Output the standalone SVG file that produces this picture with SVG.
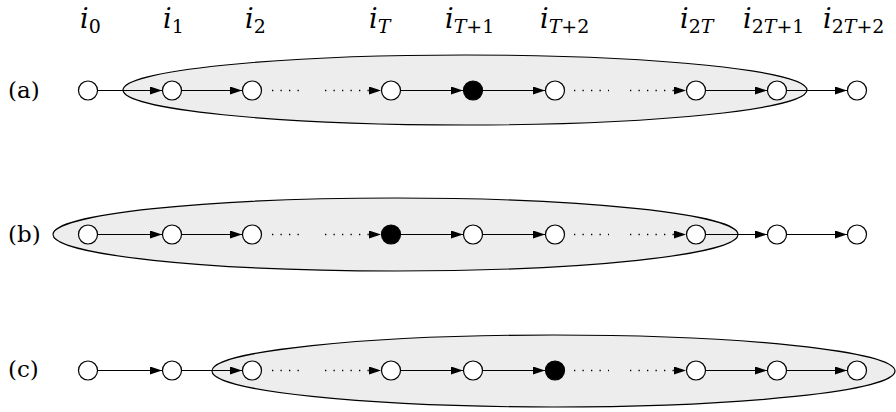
<svg xmlns="http://www.w3.org/2000/svg" width="896" height="412" viewBox="0 0 896 412">
<style>
.reg{fill:#ededed;stroke:#000;stroke-width:1.2}
.n{fill:#fff;stroke:#000;stroke-width:1.2}
.f{fill:#000;stroke:#000;stroke-width:1.2}
.e{stroke:#000;stroke-width:1.1;fill:none}
.d{stroke:#000;stroke-width:1.3;fill:none;stroke-dasharray:1.3 7.2}
.lab{font-family:"DejaVu Serif","Liberation Serif",serif;font-size:27px;fill:#000}
.lab .it{font-style:italic}
.lab .sub{font-size:19px}
.row{font-family:"DejaVu Serif","Liberation Serif",serif;font-size:23px;fill:#000}
</style>
<defs>
<marker id="ah" markerUnits="userSpaceOnUse" markerWidth="12" markerHeight="8" refX="12" refY="4" orient="auto">
<path d="M0,0 L12,4 L0,8 z" fill="#000"/>
</marker>
</defs>
<rect width="896" height="412" fill="#fff"/>
<g id="regions">
<ellipse class="reg" cx="465" cy="90" rx="342" ry="35"/>
<ellipse class="reg" cx="395.5" cy="234.5" rx="342.5" ry="36.5"/>
<ellipse class="reg" cx="553.5" cy="371" rx="341.5" ry="36"/>
</g>
<g id="labels">
<text class="lab" x="80" y="28"><tspan class="it">i</tspan><tspan class="sub" dy="5">0</tspan></text>
<text class="lab" x="163" y="28"><tspan class="it">i</tspan><tspan class="sub" dy="5">1</tspan></text>
<text class="lab" x="245" y="28"><tspan class="it">i</tspan><tspan class="sub" dy="5">2</tspan></text>
<text class="lab" x="369" y="28"><tspan class="it">i</tspan><tspan class="sub it" dy="5">T</tspan></text>
<text class="lab" x="445" y="28"><tspan class="it">i</tspan><tspan class="sub" dy="5"><tspan class="it">T</tspan>+1</tspan></text>
<text class="lab" x="540" y="28"><tspan class="it">i</tspan><tspan class="sub" dy="5"><tspan class="it">T</tspan>+2</tspan></text>
<text class="lab" x="680" y="28"><tspan class="it">i</tspan><tspan class="sub" dy="5">2<tspan class="it">T</tspan></tspan></text>
<text class="lab" x="743" y="28"><tspan class="it">i</tspan><tspan class="sub" dy="5">2<tspan class="it">T</tspan>+1</tspan></text>
<text class="lab" x="823" y="28"><tspan class="it">i</tspan><tspan class="sub" dy="5">2<tspan class="it">T</tspan>+2</tspan></text>
<text class="row" x="8" y="98">(a)</text>
<text class="row" x="8" y="242">(b)</text>
<text class="row" x="8" y="377">(c)</text>
</g>
<g id="connectors">
<line class="e" x1="98" y1="90.5" x2="162" y2="90.5" marker-end="url(#ah)"/>
<line class="e" x1="182" y1="90.5" x2="242" y2="90.5" marker-end="url(#ah)"/>
<line class="d" x1="272" y1="90.5" x2="304" y2="90.5"/>
<line class="d" x1="325" y1="90.5" x2="381" y2="90.5" marker-end="url(#ah)"/>
<line class="e" x1="401" y1="90.5" x2="463" y2="90.5" marker-end="url(#ah)"/>
<line class="e" x1="483" y1="90.5" x2="545" y2="90.5" marker-end="url(#ah)"/>
<line class="d" x1="574" y1="90.5" x2="609" y2="90.5"/>
<line class="d" x1="630" y1="90.5" x2="686" y2="90.5" marker-end="url(#ah)"/>
<line class="e" x1="706" y1="90.5" x2="767" y2="90.5" marker-end="url(#ah)"/>
<line class="e" x1="787" y1="90.5" x2="847" y2="90.5" marker-end="url(#ah)"/>
<line class="e" x1="98" y1="234.5" x2="162" y2="234.5" marker-end="url(#ah)"/>
<line class="e" x1="182" y1="234.5" x2="242" y2="234.5" marker-end="url(#ah)"/>
<line class="d" x1="272" y1="234.5" x2="304" y2="234.5"/>
<line class="d" x1="325" y1="234.5" x2="381" y2="234.5" marker-end="url(#ah)"/>
<line class="e" x1="401" y1="234.5" x2="463" y2="234.5" marker-end="url(#ah)"/>
<line class="e" x1="483" y1="234.5" x2="545" y2="234.5" marker-end="url(#ah)"/>
<line class="d" x1="574" y1="234.5" x2="609" y2="234.5"/>
<line class="d" x1="630" y1="234.5" x2="686" y2="234.5" marker-end="url(#ah)"/>
<line class="e" x1="706" y1="234.5" x2="767" y2="234.5" marker-end="url(#ah)"/>
<line class="e" x1="787" y1="234.5" x2="847" y2="234.5" marker-end="url(#ah)"/>
<line class="e" x1="98" y1="370.5" x2="162" y2="370.5" marker-end="url(#ah)"/>
<line class="e" x1="182" y1="370.5" x2="242" y2="370.5" marker-end="url(#ah)"/>
<line class="d" x1="272" y1="370.5" x2="304" y2="370.5"/>
<line class="d" x1="325" y1="370.5" x2="381" y2="370.5" marker-end="url(#ah)"/>
<line class="e" x1="401" y1="370.5" x2="463" y2="370.5" marker-end="url(#ah)"/>
<line class="e" x1="483" y1="370.5" x2="545" y2="370.5" marker-end="url(#ah)"/>
<line class="d" x1="574" y1="370.5" x2="609" y2="370.5"/>
<line class="d" x1="630" y1="370.5" x2="686" y2="370.5" marker-end="url(#ah)"/>
<line class="e" x1="706" y1="370.5" x2="767" y2="370.5" marker-end="url(#ah)"/>
<line class="e" x1="787" y1="370.5" x2="847" y2="370.5" marker-end="url(#ah)"/>
</g>
<g id="a0"><circle class="n" cx="88" cy="90.5" r="9.5"/></g>
<g id="a1"><circle class="n" cx="172" cy="90.5" r="9.5"/></g>
<g id="a2"><circle class="n" cx="252" cy="90.5" r="9.5"/></g>
<g id="aT"><circle class="n" cx="391" cy="90.5" r="9.5"/></g>
<g id="aT1"><circle class="f" cx="473" cy="90.5" r="9.5"/></g>
<g id="aT2"><circle class="n" cx="555" cy="90.5" r="9.5"/></g>
<g id="a2T"><circle class="n" cx="696" cy="90.5" r="9.5"/></g>
<g id="a2T1"><circle class="n" cx="777" cy="90.5" r="9.5"/></g>
<g id="a2T2"><circle class="n" cx="857" cy="90.5" r="9.5"/></g>
<g id="b0"><circle class="n" cx="88" cy="234.5" r="9.5"/></g>
<g id="b1"><circle class="n" cx="172" cy="234.5" r="9.5"/></g>
<g id="b2"><circle class="n" cx="252" cy="234.5" r="9.5"/></g>
<g id="bT"><circle class="f" cx="391" cy="234.5" r="9.5"/></g>
<g id="bT1"><circle class="n" cx="473" cy="234.5" r="9.5"/></g>
<g id="bT2"><circle class="n" cx="555" cy="234.5" r="9.5"/></g>
<g id="b2T"><circle class="n" cx="696" cy="234.5" r="9.5"/></g>
<g id="b2T1"><circle class="n" cx="777" cy="234.5" r="9.5"/></g>
<g id="b2T2"><circle class="n" cx="857" cy="234.5" r="9.5"/></g>
<g id="c0"><circle class="n" cx="88" cy="370.5" r="9.5"/></g>
<g id="c1"><circle class="n" cx="172" cy="370.5" r="9.5"/></g>
<g id="c2"><circle class="n" cx="252" cy="370.5" r="9.5"/></g>
<g id="cT"><circle class="n" cx="391" cy="370.5" r="9.5"/></g>
<g id="cT1"><circle class="n" cx="473" cy="370.5" r="9.5"/></g>
<g id="cT2"><circle class="f" cx="555" cy="370.5" r="9.5"/></g>
<g id="c2T"><circle class="n" cx="696" cy="370.5" r="9.5"/></g>
<g id="c2T1"><circle class="n" cx="777" cy="370.5" r="9.5"/></g>
<g id="c2T2"><circle class="n" cx="857" cy="370.5" r="9.5"/></g>
</svg>
